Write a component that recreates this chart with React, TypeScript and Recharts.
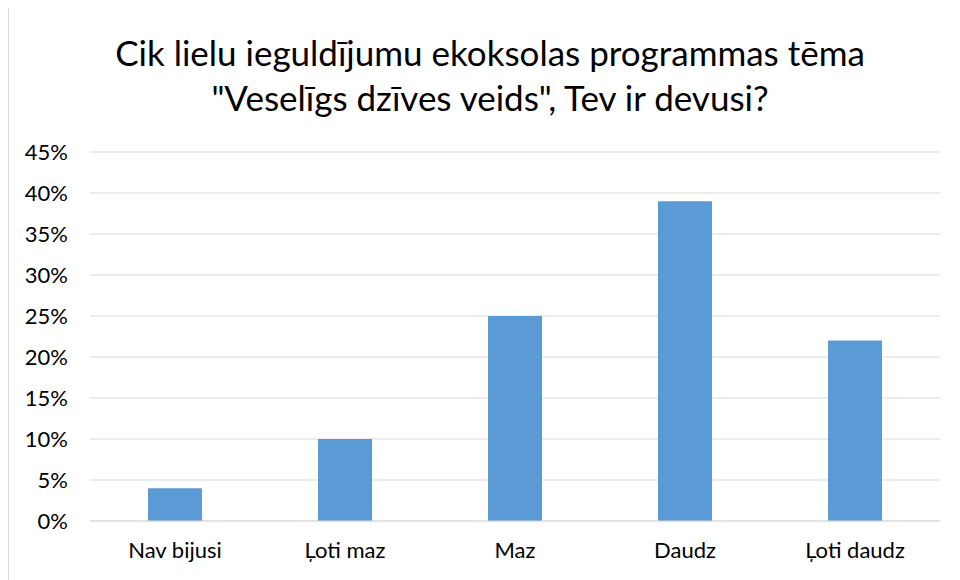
import React from 'react';
import { BarChart, Bar, XAxis, YAxis, CartesianGrid } from 'recharts';

const categories = ['Nav bijusi', 'Ļoti maz', 'Maz', 'Daudz', 'Ļoti daudz'];
const shares = [4, 10, 25, 39, 22];
const yTicks = [0, 5, 10, 15, 20, 25, 30, 35, 40, 45];

const data = categories.map((name, i) => ({ name, value: shares[i] }));

const FONT = 'Lato, "Liberation Sans", sans-serif';

export default function App() {
  return (
    <div
      style={{
        position: 'relative',
        width: 962,
        height: 590,
        border: '1px solid #d9d9d9',
        background: '#fff',
        fontFamily: FONT,
        marginTop: -1,
      }}
    >
      <div
        style={{
          position: 'absolute',
          top: 22,
          left: 0,
          width: 962,
          textAlign: 'center',
          fontSize: 35,
          lineHeight: '45px',
          color: '#000',
        }}
      >
        Cik lielu ieguldījumu ekoksolas programmas tēma
        <br />
        "Veselīgs dzīves veids", Tev ir devusi?
      </div>
      <BarChart
        width={962}
        height={590}
        data={data}
        margin={{ top: 144, right: 31, left: 0, bottom: 47 }}
        style={{ fontFamily: FONT }}
      >
        <CartesianGrid vertical={false} stroke="#d9d9d9" strokeWidth={1} />
        <XAxis
          dataKey="name"
          height={30}
          axisLine={{ stroke: '#d9d9d9' }}
          tickLine={false}
          tickSize={0}
          tickMargin={21}
          tick={{ fontSize: 22, fill: '#000' }}
        />
        <YAxis
          width={81}
          domain={[0, 45]}
          ticks={yTicks}
          interval={0}
          axisLine={false}
          tickLine={false}
          tickSize={0}
          tickMargin={22}
          tick={{ fontSize: 22, fill: '#000' }}
          tickFormatter={(v: number) => `${v}%`}
        />
        <Bar dataKey="value" fill="#5b9bd5" barSize={54} isAnimationActive={false} />
      </BarChart>
    </div>
  );
}
